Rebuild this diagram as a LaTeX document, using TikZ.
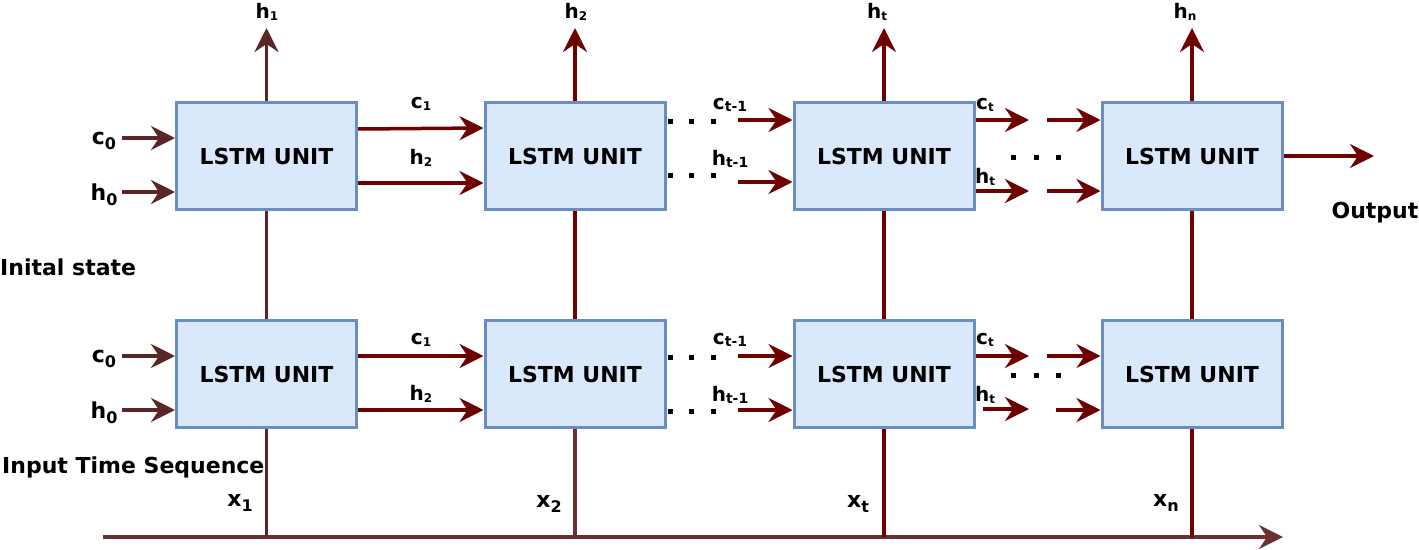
\documentclass[tikz,border=0pt]{standalone}
\usepackage{fontspec}
\setmainfont{DejaVu Sans}
\usetikzlibrary{arrows.meta,calc}
\definecolor{boxfill}{HTML}{DAE8FC}
\definecolor{boxline}{HTML}{6C8EBF}
\definecolor{dred}{HTML}{6F0000}
\definecolor{brn}{HTML}{5C2626}
\definecolor{brn2}{HTML}{6B3030}
\newcommand\smsub[1]{\raisebox{-1.5pt}{\fontsize{12}{12}\selectfont #1}}
\newcommand\tsub[1]{\raisebox{-1.5pt}{\fontsize{14}{14}\selectfont #1}}
\newcommand\bsub[1]{\raisebox{-5pt}{\fontsize{16}{16}\selectfont #1}}
\begin{document}
\begin{tikzpicture}[x=1pt,y=-1pt,
  lstm/.style={draw=boxline, fill=boxfill, line width=3pt, minimum width=180pt, minimum height=107pt, inner sep=0pt, font=\fontsize{22}{26}\selectfont\bfseries},
  lbl/.style={inner sep=0pt, font=\fontsize{20}{24}\selectfont\bfseries},
  big/.style={inner sep=0pt, font=\fontsize{22}{26}\selectfont\bfseries},
  arr/.style={line width=3.5pt, -{Stealth[length=24pt,width=24pt,inset=8pt]}},
  ln/.style={line width=3.5pt},
  dot/.style={fill=black, minimum size=5pt, inner sep=0pt}]
\useasboundingbox (0,0) rectangle (1419,549);
% boxes
\node[lstm] (a1) at (266.5,156) {LSTM UNIT};
\node[lstm] (a2) at (575,156) {LSTM UNIT};
\node[lstm] (a3) at (884,156) {LSTM UNIT};
\node[lstm] (a4) at (1192,156) {LSTM UNIT};
\node[lstm] (b1) at (266.5,374) {LSTM UNIT};
\node[lstm] (b2) at (575,374) {LSTM UNIT};
\node[lstm] (b3) at (884,374) {LSTM UNIT};
\node[lstm] (b4) at (1192,374) {LSTM UNIT};
% coordinates
\coordinate (t1) at (266.5,28);
\coordinate (t2) at (575,28);
\coordinate (t3) at (884,28);
\coordinate (t4) at (1192,28);
\coordinate (ax0) at (103,537);
\coordinate (ax1) at (1283,537);
\coordinate (ac0) at (122,138);
\coordinate (ah0) at (122,192);
\coordinate (bc0) at (122,356);
\coordinate (bh0) at (122,410);
\coordinate (ac3) at (738,120);
\coordinate (ah3) at (738,182);
\coordinate (bc3) at (738,356);
\coordinate (bh3) at (738,410);
\coordinate (ac4e) at (1029,120);
\coordinate (ac4s) at (1047,120);
\coordinate (ah4e) at (1029,191);
\coordinate (ah4s) at (1047,191);
\coordinate (bc4e) at (1029,356);
\coordinate (bc4s) at (1047,356);
\coordinate (bh4s0) at (983,409);
\coordinate (bh4e) at (1029,409);
\coordinate (bh4s) at (1056,410);
\coordinate (out) at (1374,156);
% axis
\draw[arr,brn2] (ax0) -- (ax1);
% vertical lines
\draw[arr,brn] (a1.north) -- (t1);
\draw[arr,dred] (a2.north) -- (t2);
\draw[arr,dred] (a3.north) -- (t3);
\draw[arr,dred] (a4.north) -- (t4);
\draw[ln,brn] (a1.south) -- (b1.north);
\draw[ln,dred] (a2.south) -- (b2.north);
\draw[ln,dred] (a3.south) -- (b3.north);
\draw[ln,dred] (a4.south) -- (b4.north);
\draw[ln,brn] (b1.south) -- (b1.south |- ax0);
\draw[ln,brn2] (b2.south) -- (b2.south |- ax0);
\draw[ln,dred] (b3.south) -- (b3.south |- ax0);
\draw[ln,dred] (b4.south) -- (b4.south |- ax0);
% initial inputs
\draw[arr,brn] (ac0) -- (ac0 -| a1.west);
\draw[arr,brn] (ah0) -- (ah0 -| a1.west);
\draw[arr,brn] (bc0) -- (bc0 -| b1.west);
\draw[arr,brn] (bh0) -- (bh0 -| b1.west);
% box1 -> box2
\draw[arr,dred] ([yshift=27pt]a1.east) -- ([yshift=28pt]a2.west);
\draw[arr,dred] ([yshift=-27pt]a1.east) -- ([yshift=-27pt]a2.west);
\draw[arr,dred] ([yshift=18pt]b1.east) -- ([yshift=18pt]b2.west);
\draw[arr,dred] ([yshift=-36pt]b1.east) -- ([yshift=-36pt]b2.west);
% -> box3
\draw[arr,dred] (ac3) -- (ac3 -| a3.west);
\draw[arr,dred] (ah3) -- (ah3 -| a3.west);
\draw[arr,dred] (bc3) -- (bc3 -| b3.west);
\draw[arr,dred] (bh3) -- (bh3 -| b3.west);
% box3 -> box4
\draw[arr,dred] (ac4e -| a3.east) -- (ac4e);
\draw[arr,dred] (ac4s) -- (ac4s -| a4.west);
\draw[arr,dred] (ah4e -| a3.east) -- (ah4e);
\draw[arr,dred] (ah4s) -- (ah4s -| a4.west);
\draw[arr,dred] (bc4e -| b3.east) -- (bc4e);
\draw[arr,dred] (bc4s) -- (bc4s -| b4.west);
\draw[arr,dred] (bh4s0) -- (bh4e);
\draw[arr,dred] (bh4s) -- (bh4s -| b4.west);
% output
\draw[arr,dred] (a4.east) -- (out);
% dots
\foreach \x/\n in {670/1,691/2,713/3}{
  \node[dot] (dac\n) at (\x,121) {};
  \node[dot] (dah\n) at (\x,175) {};
  \node[dot] (dbc\n) at (\x,357) {};
  \node[dot] (dbh\n) at (\x,411) {};
}
\foreach \x/\n in {1013/1,1036/2,1058/3}{
  \node[dot] (da\n) at (\x,157) {};
  \node[dot] (db\n) at (\x,375) {};
}
% top labels
\node[lbl] (lh1) at (267,12) {h\smsub{1}};
\node[lbl] (lh2) at (576,12) {h\smsub{2}};
\node[lbl] (lht) at (877,12) {h\smsub{t}};
\node[lbl] (lhn) at (1185,12) {h\smsub{n}};
% left labels
\node[big] (lc0a) at (104,141) {c\bsub{0}};
\node[big] (lh0a) at (104,195) {h\bsub{0}};
\node[big] (lc0b) at (104,359) {c\bsub{0}};
\node[big] (lh0b) at (104,413) {h\bsub{0}};
\node[big, anchor=west] (linit) at (0,267) {Inital state};
\node[big, anchor=west] (linput) at (2,467) {Input Time Sequence};
\node[big] (lout) at (1375,213) {Output};
% mid labels top
\node[lbl] (lac1) at (421,104) {c\smsub{1}};
\node[lbl] (lah2) at (421,158) {h\smsub{2}};
\node[lbl] (lact) at (730,105) {c\tsub{t-1}};
\node[lbl] (laht) at (730,159) {h\tsub{t-1}};
\node[lbl] (lac) at (985,105) {c\smsub{t}};
\node[lbl] (lah) at (985,177) {h\smsub{t}};
% mid labels bottom
\node[lbl] (lbc1) at (421,340) {c\smsub{1}};
\node[lbl] (lbh2) at (421,394) {h\smsub{2}};
\node[lbl] (lbct) at (730,340) {c\tsub{t-1}};
\node[lbl] (lbht) at (730,395) {h\tsub{t-1}};
\node[lbl] (lbc) at (985,340) {c\smsub{t}};
\node[lbl] (lbh) at (985,395) {h\smsub{t}};
% x labels
\node[big] (lx1) at (240,503) {x\bsub{1}};
\node[big] (lx2) at (549,504) {x\bsub{2}};
\node[big] (lxt) at (858,504) {x\bsub{t}};
\node[big] (lxn) at (1166,503) {x\bsub{n}};
\end{tikzpicture}
\end{document}
